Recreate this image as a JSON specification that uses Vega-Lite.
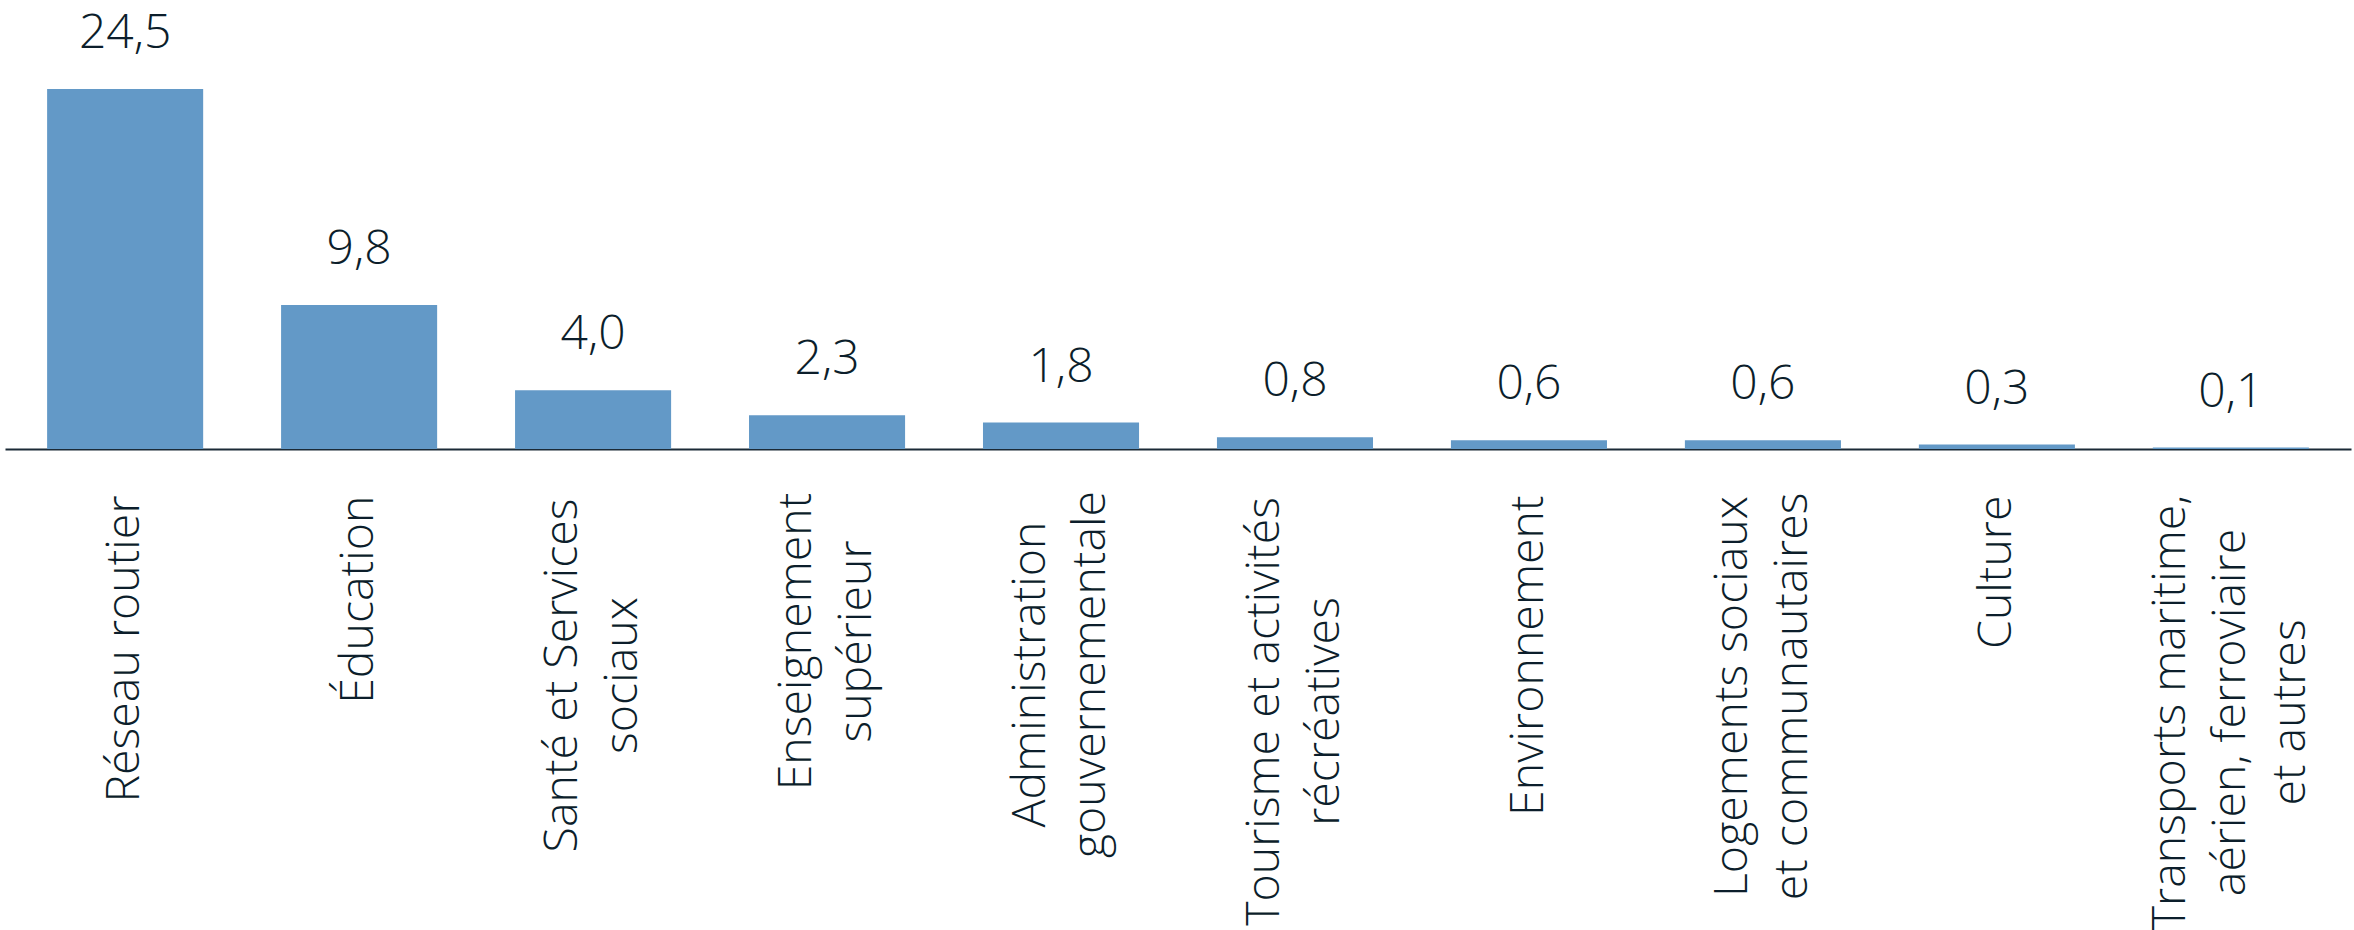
{
  "$schema": "https://vega.github.io/schema/vega-lite/v6.json",
  "width": 2346,
  "height": 439,
  "padding": {"left": 5, "top": 10, "right": 3, "bottom": 0},
  "background": "white",
  "config": {
    "view": {"stroke": null},
    "locale": {"number": {"decimal": ",", "thousands": " ", "grouping": [3], "currency": ["", " $"]}},
    "font": "Open Sans"
  },
  "data": {
    "values": [
      {"categorie": "Réseau routier", "valeur": 24.5},
      {"categorie": "Éducation", "valeur": 9.8},
      {"categorie": "Santé et Services|sociaux", "valeur": 4.0},
      {"categorie": "Enseignement|supérieur", "valeur": 2.3},
      {"categorie": "Administration|gouvernementale", "valeur": 1.8},
      {"categorie": "Tourisme et activités|récréatives", "valeur": 0.8},
      {"categorie": "Environnement", "valeur": 0.6},
      {"categorie": "Logements sociaux|et communautaires", "valeur": 0.6},
      {"categorie": "Culture", "valeur": 0.3},
      {"categorie": "Transports maritime,|aérien, ferroviaire|et autres", "valeur": 0.1}
    ]
  },
  "encoding": {
    "x": {
      "field": "categorie",
      "type": "nominal",
      "sort": null,
      "scale": {"paddingInner": 0.333, "paddingOuter": 0.18},
      "axis": {
        "title": null,
        "ticks": false,
        "domainColor": "#1b2a36",
        "domainWidth": 2,
        "labelAngle": -90,
        "labelAlign": {
          "condition": {"test": "indexof(datum.value, '|') >= 0", "value": "center"},
          "value": "right"
        },
        "labelBaseline": "middle",
        "labelPadding": {
          "condition": [
            {"test": "datum.value == 'Santé et Services|sociaux'", "value": 226},
            {"test": "datum.value == 'Enseignement|supérieur'", "value": 192},
            {"test": "datum.value == 'Administration|gouvernementale'", "value": 225},
            {"test": "datum.value == 'Tourisme et activités|récréatives'", "value": 262},
            {"test": "datum.value == 'Logements sociaux|et communautaires'", "value": 247},
            {"test": "datum.value == 'Transports maritime,|aérien, ferroviaire|et autres'", "value": 263}
          ],
          "value": 46
        },
        "labelFontSize": 46.5,
        "labelFont": "Open Sans",
        "labelFontWeight": 300,
        "labelColor": "#0c1e2b",
        "labelLineHeight": 60,
        "labelOffset": {
          "condition": [
            {"test": "length(split(datum.value, '|')) == 3", "value": -60},
            {"test": "length(split(datum.value, '|')) == 2", "value": -30}
          ],
          "value": 0
        },
        "labelExpr": "split(datum.value, '|')",
        "labelLimit": 0
      }
    },
    "y": {
      "field": "valeur",
      "type": "quantitative",
      "scale": {"domain": [0, 29.88], "nice": false},
      "axis": null
    }
  },
  "layer": [
    {"mark": {"type": "bar", "color": "#6399c7"}},
    {
      "mark": {
        "type": "text",
        "baseline": "alphabetic",
        "dy": -41,
        "fontSize": 48,
        "font": "Open Sans",
        "fontWeight": 300,
        "color": "#0c1e2b"
      },
      "encoding": {"text": {"field": "valeur", "type": "quantitative", "format": ".1f"}}
    }
  ]
}
